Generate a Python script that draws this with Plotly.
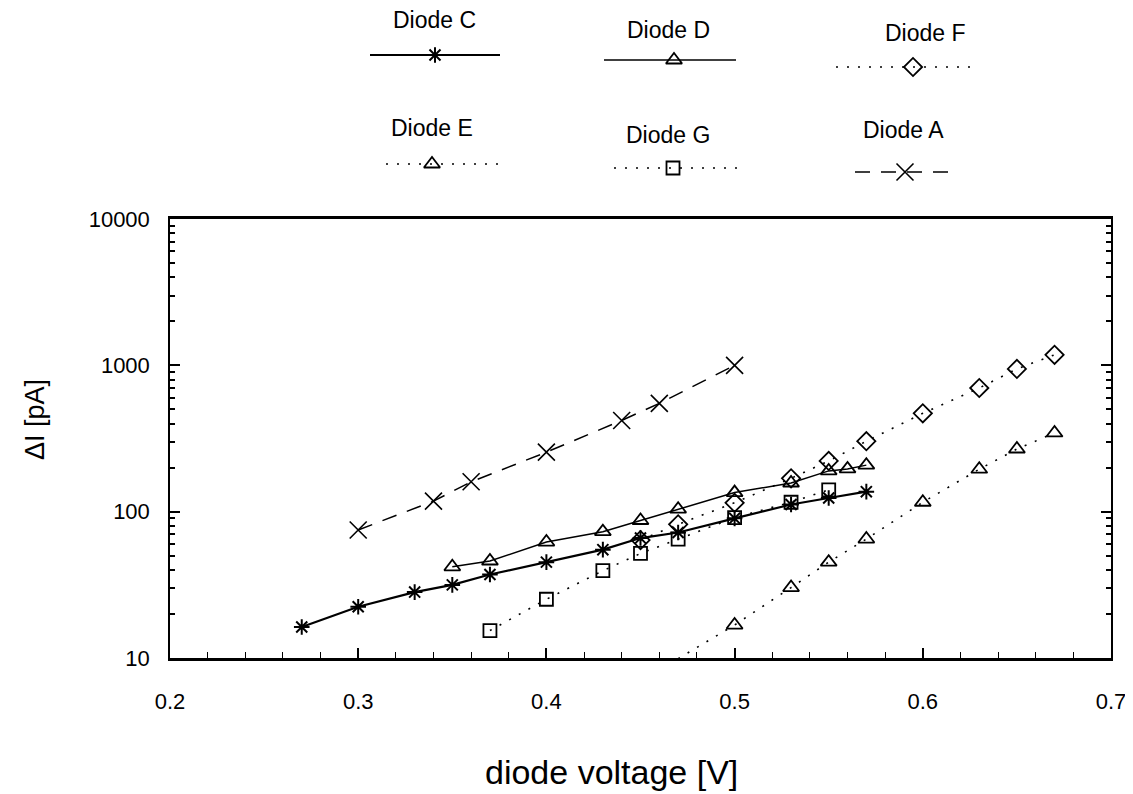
import plotly.graph_objects as go

# ---------------- data ----------------
x_ticks = [0.2, 0.3, 0.4, 0.5, 0.6, 0.7]
x_tick_text = ["0.2", "0.3", "0.4", "0.5", "0.6", "0.7"]
y_ticks = [10, 100, 1000, 10000]
y_tick_text = ["10", "100", "1000", "10000"]

x_A = [0.30, 0.34, 0.36, 0.40, 0.44, 0.46, 0.50]
y_A = [75, 118, 160, 255, 420, 550, 1000]

x_C = [0.27, 0.30, 0.33, 0.35, 0.37, 0.40, 0.43, 0.45, 0.47, 0.50, 0.53, 0.55, 0.57]
y_C = [16.3, 22.4, 28.2, 31.6, 37.2, 45.2, 55, 66, 72, 90, 112, 124, 137]

x_D = [0.35, 0.37, 0.40, 0.43, 0.45, 0.47, 0.50, 0.53, 0.55, 0.56, 0.57]
y_D = [42, 46, 62, 73, 87, 104, 135, 157, 190, 196, 208]

x_F = [0.45, 0.47, 0.50, 0.53, 0.55, 0.57, 0.60, 0.63, 0.65, 0.67]
y_F = [64, 82, 115, 169, 222, 303, 470, 700, 945, 1180]

x_G = [0.37, 0.40, 0.43, 0.45, 0.47, 0.50, 0.53, 0.55]
y_G = [15.4, 25.2, 39.5, 51.8, 64.9, 91, 116, 141]

x_E = [0.47, 0.50, 0.53, 0.55, 0.57, 0.60, 0.63, 0.65, 0.67]
y_E = [9.9, 16.8, 30.3, 45.2, 65, 116, 195, 268, 345]

names = ["Diode C", "Diode D", "Diode F", "Diode E", "Diode G", "Diode A"]

# ---------------- geometry ----------------
# The page body adds an 8px margin, so the figure is drawn 8px smaller and
# all reference pixel positions are shifted by OFF.
OFF = 8
W, H = 1133 - OFF, 794 - OFF
L, R, T, B = 170 - OFF, 1111 - OFF, 219 - OFF, 658 - OFF
FONT = "Liberation Sans, Arial, Helvetica, sans-serif"

DOT = "2px,9px"
DASH = "15px,11px"
styles = {
    "Diode C": dict(symbol="asterisk-open", size=13, lw=2.2, dash="solid", mlw=2),
    "Diode D": dict(symbol="triangle-up-open", size=14, lw=1.5, dash="solid", mlw=1.8),
    "Diode F": dict(symbol="diamond-open", size=14, lw=1.6, dash=DOT, mlw=1.8),
    "Diode E": dict(symbol="triangle-up-open", size=14, lw=1.6, dash=DOT, mlw=1.8),
    "Diode G": dict(symbol="square-open", size=13, lw=1.6, dash=DOT, mlw=1.8),
    "Diode A": dict(symbol="x-thin-open", size=17, lw=1.5, dash=DASH, mlw=1.6),
}
data = {
    "Diode C": (x_C, y_C),
    "Diode D": (x_D, y_D),
    "Diode F": (x_F, y_F),
    "Diode E": (x_E, y_E),
    "Diode G": (x_G, y_G),
    "Diode A": (x_A, y_A),
}

fig = go.Figure()
for n in names:
    xs, ys = data[n]
    s = styles[n]
    fig.add_trace(go.Scatter(
        x=xs, y=ys, mode="lines+markers", name=n, cliponaxis=False,
        line=dict(color="black", width=s["lw"], dash=s["dash"]),
        marker=dict(symbol=s["symbol"], size=s["size"], color="black",
                    line=dict(color="black", width=s["mlw"])),
        xaxis="x", yaxis="y", showlegend=False))

# ---------------- custom legend (text above sample) ----------------
# (text center x, text y, line x0, line x1, line y, marker x) in reference pixels
leg_pos = {
    "Diode C": (434, 20, 370, 500, 55, 435),
    "Diode D": (668, 30, 604, 736, 60, 674),
    "Diode F": (925, 33, 836, 975, 67, 913),
    "Diode E": (432, 128, 386, 500, 164, 432),
    "Diode G": (668, 135, 614, 745, 168, 673),
    "Diode A": (903, 130, 855, 955, 172, 905),
}
annotations = []
for n in names:
    tx, ty, x0, x1, ly, mx = leg_pos[n]
    s = styles[n]
    fig.add_trace(go.Scatter(
        x=[x0 - OFF, x1 - OFF], y=[ly - OFF, ly - OFF], mode="lines", xaxis="x2", yaxis="y2",
        line=dict(color="black", width=s["lw"], dash=s["dash"]), showlegend=False,
        hoverinfo="skip"))
    fig.add_trace(go.Scatter(
        x=[mx - OFF], y=[ly - OFF], mode="markers", xaxis="x2", yaxis="y2",
        marker=dict(symbol=s["symbol"], size=s["size"], color="black",
                    line=dict(color="black", width=s["mlw"])),
        showlegend=False, hoverinfo="skip"))
    annotations.append(dict(x=tx - OFF, y=ty - OFF, xref="x2", yref="y2", text=n,
                            showarrow=False,
                            font=dict(family=FONT, size=23, color="black"),
                            xanchor="center", yanchor="middle"))

annotations.append(dict(x=(611 - OFF) / W, y=1 - (772 - OFF) / H, xref="paper", yref="paper",
                        text="diode voltage [V]", showarrow=False,
                        font=dict(family=FONT, size=34, color="black"),
                        xanchor="center", yanchor="middle"))
annotations.append(dict(x=(35 - OFF) / W, y=1 - (420 - OFF) / H, xref="paper", yref="paper",
                        text="\u0394I [pA]", showarrow=False, textangle=-90,
                        font=dict(family=FONT, size=27, color="black"),
                        xanchor="center", yanchor="middle"))

LEG_TOP = 200 - OFF
fig.update_layout(
    width=W, height=H,
    margin=dict(l=0, r=0, t=0, b=0, autoexpand=False),
    paper_bgcolor="white", plot_bgcolor="rgba(0,0,0,0)",
    font=dict(family=FONT, size=22, color="black"),
    showlegend=False,
    annotations=annotations,
    xaxis=dict(domain=[L / W, R / W], range=[0.2, 0.7], anchor="y",
               tickmode="array", tickvals=x_ticks, ticktext=x_tick_text,
               ticks="inside", ticklen=10, tickwidth=1.5, tickcolor="black",
               showline=True, linewidth=2.5, linecolor="black", mirror=True,
               showgrid=False, zeroline=False, ticklabelstandoff=22,
               tickfont=dict(family=FONT, size=22, color="black"),
               minor=dict(tick0=0.2, dtick=0.02, ticks="inside", ticklen=6,
                          tickwidth=1.2, tickcolor="black", showgrid=False)),
    yaxis=dict(domain=[(H - B) / H, (H - T) / H], type="log", range=[1, 4], anchor="x",
               tickmode="array", tickvals=y_ticks, ticktext=y_tick_text,
               ticks="inside", ticklen=10, tickwidth=1.5, tickcolor="black",
               showline=True, linewidth=1.5, linecolor="black", mirror="ticks",
               showgrid=False, zeroline=False, ticklabelstandoff=14,
               tickfont=dict(family=FONT, size=22, color="black"),
               minor=dict(dtick="D1", ticks="inside", ticklen=5, tickwidth=1.5,
                          tickcolor="black", showgrid=False)),
    xaxis2=dict(domain=[0, 1], range=[0, W], anchor="y2", visible=False, fixedrange=True),
    yaxis2=dict(domain=[(H - LEG_TOP) / H, 1], range=[LEG_TOP, 0], anchor="x2",
                visible=False, fixedrange=True),
)

fig.write_html("out.html")
